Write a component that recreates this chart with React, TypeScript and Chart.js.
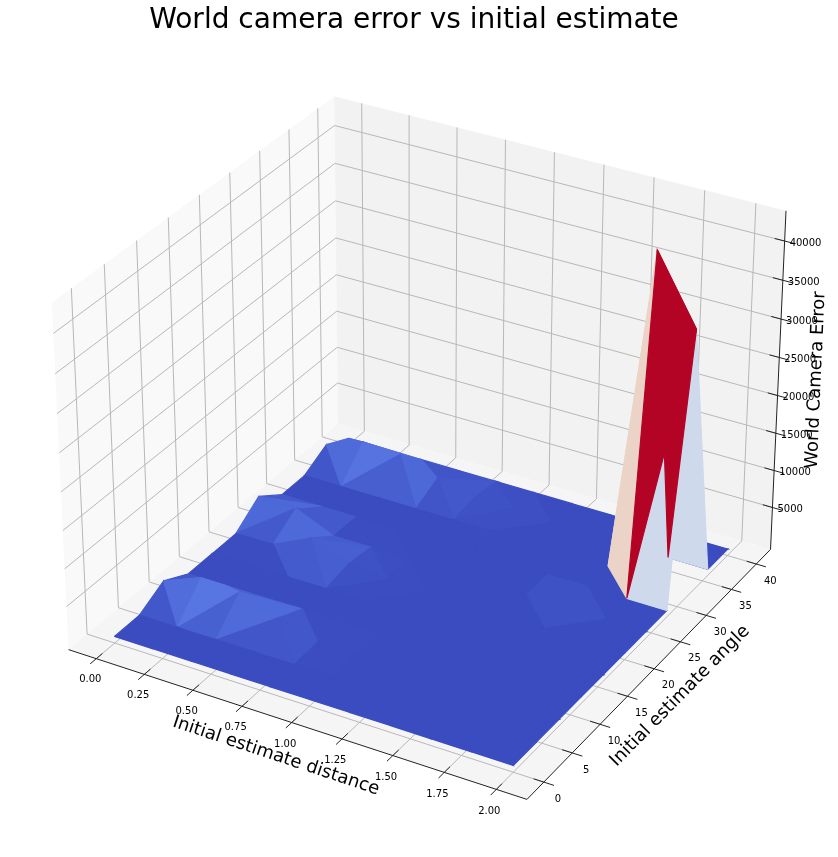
import React, { useEffect, useRef } from "react";
import { Chart, registerables } from "chart.js";

Chart.register(...registerables);

const distances = [0, 0.2, 0.4, 0.6, 0.8, 1.0, 1.2, 1.4, 1.6, 1.8, 2.0];
const angles = [0, 4, 8, 12, 16, 20, 24, 28, 32, 36, 40];

// worldError[angle index][distance index]
const worldError = [
  [160, 160, 160, 160, 160, 160, 160, 160, 160, 160, 160],
  [160, 160, 160, 160, 160, 160, 160, 160, 160, 160, 160],
  [1980, 4010, 3710, 1900, 260, 160, 160, 160, 160, 160, 160],
  [160, 160, 160, 240, 160, 160, 160, 160, 160, 160, 160],
  [160, 160, 160, 160, 160, 160, 160, 160, 160, 160, 160],
  [160, 260, 2690, 800, 300, 160, 160, 160, 160, 160, 160],
  [2590, 2490, 260, 300, 160, 160, 160, 160, 1170, 160, 160],
  [160, 160, 160, 160, 160, 160, 160, 160, 160, 160, 160],
  [160, 160, 160, 160, 160, 160, 160, 160, 160, 42930, 34300],
  [1880, 3710, 3500, 1680, 670, 670, 160, 160, 160, 160, 160],
  [160, 160, 160, 160, 160, 160, 160, 160, 160, 160, 160],
];

// cells whose diagonal differs from the alternating pattern: [i, j, main?]
const diagonalOverrides: [number, number, boolean][] = [
  [2, 1, true], [3, 1, false],
  [0, 5, true], [1, 5, false], [1, 6, true], [2, 6, false],
  [2, 4, false], [2, 5, true], [3, 4, true], [3, 5, false],
  [1, 8, true], [2, 8, false], [0, 8, false], [5, 8, true], [5, 9, false],
  [7, 5, false], [8, 5, true], [8, 6, false],
];

const xTicks = [0, 0.25, 0.5, 0.75, 1, 1.25, 1.5, 1.75, 2];
const xTickLabels = ["0.00", "0.25", "0.50", "0.75", "1.00", "1.25", "1.50", "1.75", "2.00"];
const yTicks = [0, 5, 10, 15, 20, 25, 30, 35, 40];
const zTicks = [5000, 10000, 15000, 20000, 25000, 30000, 35000, 40000];

const TITLE = "World camera error vs initial estimate";
const X_LABEL = "Initial estimate distance";
const Y_LABEL = "Initial estimate angle";
const Z_LABEL = "World Camera Error";

const coolwarm = [
  [59,76,192],[68,90,204],[77,104,215],[87,117,225],[98,130,234],[108,142,241],[119,154,247],[130,165,251],
  [141,176,254],[152,185,255],[163,194,255],[174,201,253],[184,208,249],[194,213,244],[204,217,238],[213,219,230],
  [221,221,221],[229,216,209],[236,211,197],[241,204,185],[245,196,173],[247,187,160],[247,177,148],[247,166,135],
  [244,154,123],[241,141,111],[236,127,99],[229,112,88],[222,96,77],[213,80,66],[203,62,56],[192,40,47],[180,4,38],
];

function cmap(t: number) {
  const f = Math.max(0, Math.min(1, t)) * (coolwarm.length - 1);
  const i = Math.min(coolwarm.length - 2, Math.floor(f));
  const k = f - i;
  const c = coolwarm[i].map((v, n) => Math.round(v + (coolwarm[i + 1][n] - v) * k));
  return `rgb(${c[0]},${c[1]},${c[2]})`;
}

// mplot3d view: elev 30, azim -60, box aspect 4:4:3, dist 10
const BOX = [1.1429, 1.1429, 0.861];
const SCALE = 4412;
const CX = 426;
const CY = 431;
const W = 838;
const H = 857;

const flat = worldError.flat();
const zMin = Math.min(...flat);
const zMax = Math.max(...flat);
const lim = (lo: number, hi: number) => {
  const r = hi - lo;
  return { lo, hi, pLo: lo - r / 48, pHi: hi + r / 48, r };
};
const X = lim(-0.1, 2.1);
const Y = lim(-2, 42);
const Z = lim(zMin, zMax);

function depth(x: number, y: number, z: number) {
  const a = ((x - X.lo) / X.r - 0.5) * BOX[0];
  const b = ((y - Y.lo) / Y.r - 0.5) * BOX[1];
  const c = ((z - Z.lo) / Z.r - 0.5) * BOX[2];
  return 10 - (0.433 * a - 0.75 * b + 0.5 * c);
}
function project(x: number, y: number, z: number) {
  const a = ((x - X.lo) / X.r - 0.5) * BOX[0];
  const b = ((y - Y.lo) / Y.r - 0.5) * BOX[1];
  const c = ((z - Z.lo) / Z.r - 0.5) * BOX[2];
  const w = depth(x, y, z);
  return { x: (0.866 * a + 0.5 * b) / w, y: (-0.25 * a + 0.433 * b + 0.866 * c) / w };
}

type V = [number, number, number];

function shape(label: string, pts: V[], fill: string | null, border: string, width: number) {
  return {
    label,
    data: pts.map((p) => project(p[0], p[1], p[2])),
    showLine: true,
    pointRadius: 0,
    pointHoverRadius: 0,
    tension: 0,
    fill: fill ? "shape" : false,
    backgroundColor: fill ?? "transparent",
    borderColor: border,
    borderWidth: width,
    clip: false,
  };
}

function surfaceTriangles() {
  const tris: { pts: V[]; avg: number; d: number }[] = [];
  const v = (i: number, j: number): V => [distances[i], angles[j], worldError[j][i]];
  const add = (pts: V[]) =>
    tris.push({
      pts,
      avg: (pts[0][2] + pts[1][2] + pts[2][2]) / 3,
      d: (depth(...pts[0]) + depth(...pts[1]) + depth(...pts[2])) / 3,
    });
  for (let j = 0; j < angles.length - 1; j++) {
    for (let i = 0; i < distances.length - 1; i++) {
      const o = diagonalOverrides.find((c) => c[0] === i && c[1] === j);
      const main = o ? o[2] : (i + j) % 2 === 0;
      if (main) {
        add([v(i, j), v(i + 1, j), v(i + 1, j + 1)]);
        add([v(i, j), v(i + 1, j + 1), v(i, j + 1)]);
      } else {
        add([v(i, j), v(i + 1, j), v(i, j + 1)]);
        add([v(i + 1, j), v(i + 1, j + 1), v(i, j + 1)]);
      }
    }
  }
  return tris.sort((p, q) => q.d - p.d);
}

function buildDatasets() {
  const GRID = "#b8b8b8";
  const out: any[] = [];
  const { pLo: xa, pHi: xb } = X;
  const { pLo: ya, pHi: yb } = Y;
  const { pLo: za, pHi: zb } = Z;
  out.push(shape("left pane", [[xa, ya, za], [xa, yb, za], [xa, yb, zb], [xa, ya, zb], [xa, ya, za]], "#f9f9f9", "#f9f9f9", 0));
  out.push(shape("back pane", [[xa, yb, za], [xb, yb, za], [xb, yb, zb], [xa, yb, zb], [xa, yb, za]], "#f2f2f2", "#f2f2f2", 0));
  out.push(shape("floor pane", [[xa, ya, za], [xb, ya, za], [xb, yb, za], [xa, yb, za], [xa, ya, za]], "#f5f5f5", "#f5f5f5", 0));
  for (const t of xTicks) out.push(shape(`x grid ${t}`, [[t, ya, za], [t, yb, za], [t, yb, zb]], null, GRID, 1));
  for (const t of yTicks) out.push(shape(`y grid ${t}`, [[xb, t, za], [xa, t, za], [xa, t, zb]], null, GRID, 1));
  for (const t of zTicks) out.push(shape(`z grid ${t}`, [[xa, ya, t], [xa, yb, t], [xb, yb, t]], null, GRID, 1));
  out.push(shape("x axis", [[xa, ya, za], [xb, ya, za]], null, "#222", 1));
  out.push(shape("y axis", [[xb, ya, za], [xb, yb, za]], null, "#222", 1));
  out.push(shape("z axis", [[xb, yb, za], [xb, yb, zb]], null, "#222", 1));
  const dy = Y.r * 0.022;
  const dx = X.r * 0.022;
  for (const t of xTicks) out.push(shape(`x tick ${t}`, [[t, ya - dy, za], [t, ya + dy, za]], null, "#222", 1));
  for (const t of yTicks) out.push(shape(`y tick ${t}`, [[xb + dx, t, za], [xb - dx, t, za]], null, "#222", 1));
  for (const t of zTicks) out.push(shape(`z tick ${t}`, [[xb + dx, yb, t], [xb - dx, yb, t]], null, "#222", 1));
  const tris = surfaceTriangles();
  const aMin = Math.min(...tris.map((t) => t.avg));
  const aMax = Math.max(...tris.map((t) => t.avg));
  for (const t of tris) {
    const col = cmap((t.avg - aMin) / (aMax - aMin));
    out.push(shape("surface", [...t.pts, t.pts[0]], col, col, 1.2));
  }
  return out.reverse();
}

const textPlugin = {
  id: "axisText",
  afterDraw(chart: any) {
    const { ctx, scales } = chart;
    const FONT = '"DejaVu Sans"';
    const at = (x: number, y: number, z: number) => {
      const p = project(x, y, z);
      return [scales.x.getPixelForValue(p.x), scales.y.getPixelForValue(p.y)];
    };
    const put = (s: string, x: number, y: number, size: number, rot = 0, align: CanvasTextAlign = "center") => {
      ctx.save();
      ctx.translate(x, y);
      ctx.rotate((rot * Math.PI) / 180);
      ctx.font = `${size}px ${FONT}`;
      ctx.fillStyle = "#000";
      ctx.textAlign = align;
      ctx.textBaseline = "middle";
      ctx.fillText(s, 0, 0);
      ctx.restore();
    };
    xTicks.forEach((t, n) => {
      const [px, py] = at(t, Y.pLo, Z.pLo);
      const k = t / 2;
      put(xTickLabels[n], px - 6 - 1 * k, py + 21 + k, 10);
    });
    yTicks.forEach((t) => {
      const [px, py] = at(X.pHi, t, Z.pLo);
      put(String(t), px + 14, py + 17, 10);
    });
    zTicks.forEach((t) => {
      const [px, py] = at(X.pHi, Y.pHi, t);
      put(String(t), px + 5, py + 2, 10, 0, "left");
    });
    put(X_LABEL, 276, 756, 18, 18.4);
    put(Y_LABEL, 680, 696, 18, -45.4);
    put(Z_LABEL, 816, 380, 18, -87.4);
    put(TITLE, 414, 20.6, 28);
  },
};

export default function App() {
  const ref = useRef<HTMLCanvasElement>(null);
  useEffect(() => {
    const chart = new Chart(ref.current as HTMLCanvasElement, {
      type: "scatter",
      data: { datasets: buildDatasets() },
      options: {
        animation: false,
        responsive: false,
        events: [],
        layout: { padding: 0 },
        plugins: { legend: { display: false }, tooltip: { enabled: false } },
        scales: {
          x: { type: "linear", display: false, min: (0 - CX) / SCALE, max: (W - CX) / SCALE },
          y: { type: "linear", display: false, min: (CY - H) / SCALE, max: CY / SCALE },
        },
      },
      plugins: [textPlugin],
    } as any);
    return () => chart.destroy();
  }, []);
  return (
    <div style={{ position: "absolute", left: 0, top: 0, width: W, height: H, background: "#fff" }}>
      <canvas ref={ref} width={W} height={H} style={{ display: "block" }} />
    </div>
  );
}
